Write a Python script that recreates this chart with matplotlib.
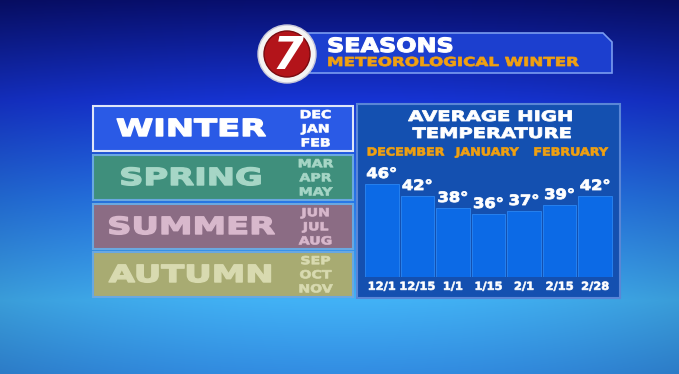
import numpy as np
import matplotlib.pyplot as plt
from matplotlib.patches import Rectangle, Circle, Polygon
from matplotlib.patheffects import AbstractPathEffect
from matplotlib.transforms import Affine2D

dates = ["12/1", "12/15", "1/1", "1/15", "2/1", "2/15", "2/28"]
highs = [46, 42, 38, 36, 37, 39, 42]
months = ["DECEMBER", "JANUARY", "FEBRUARY"]
seasons = ["WINTER", "SPRING", "SUMMER", "AUTUMN"]
season_months = [["DEC", "JAN", "FEB"], ["MAR", "APR", "MAY"],
                 ["JUN", "JUL", "AUG"], ["SEP", "OCT", "NOV"]]

W, H = 679, 374
FONT = "DejaVu Sans"
ORANGE = "#f0a010"


class Stretch(AbstractPathEffect):
    """widen text horizontally around its anchor and fatten the strokes
    (the TV graphic uses an extended black-weight font)"""

    def __init__(self, x, trans, sx, lw=0.0):
        super().__init__()
        self.x, self.trans, self.sx, self.lw = x, trans, sx, lw

    def draw_path(self, renderer, gc, tpath, affine, rgbFace=None):
        cx = self.trans.transform((self.x, 0))[0]
        st = Affine2D().translate(-cx, 0).scale(self.sx, 1).translate(cx, 0)
        gc0 = renderer.new_gc()
        gc0.copy_properties(gc)
        if self.lw > 0 and rgbFace is not None:
            gc0.set_linewidth(self.lw)
            gc0.set_foreground(rgbFace)
            gc0.set_joinstyle("round")
        renderer.draw_path(gc0, tpath, affine + st, rgbFace)
        gc0.restore()


def wide_text(ax, x, y, s, sx, **kw):
    t = ax.text(x, y, s, family=FONT, fontweight="bold", **kw)
    t.set_path_effects([Stretch(x, ax.transData, sx, 0.06 * kw.get("fontsize", 10))])
    return t


fig = plt.figure(figsize=(W / 100, H / 100), dpi=100)

# background: pixel coords, y down
bg = fig.add_axes([0, 0, 1, 1])
bg.set_xlim(0, W)
bg.set_ylim(H, 0)
bg.axis("off")

stops_y = [0, 100, 200, 300, 374]
stops_c = np.array([[8, 15, 110], [22, 52, 212], [38, 118, 232],
                    [66, 178, 246], [50, 140, 226]], dtype=float) / 255
yy = np.arange(H)
grad = np.stack([np.interp(yy, stops_y, stops_c[:, k]) for k in range(3)], axis=1)
xx = np.linspace(-1, 1, W)
shade = 1 - 0.12 * xx ** 2
img = grad[:, None, :] * shade[None, :, None]
bg.imshow(np.clip(img, 0, 1), extent=[0, W, H, 0], aspect="auto", zorder=0)

# header banner + logo
banner = Polygon([[305, 33], [603, 33], [612, 42], [612, 73], [305, 73]],
                 closed=True, facecolor="#1c3fcf", edgecolor="#7a9cf0", lw=1.2, zorder=2)
bg.add_patch(banner)
wide_text(bg, 327, 46.5, "SEASONS", 1.22, color="white", fontsize=14.1,
          va="center", ha="left", zorder=3)
wide_text(bg, 327, 62.5, "METEOROLOGICAL WINTER", 1.35, color=ORANGE, fontsize=8.9,
          va="center", ha="left", zorder=3)
bg.add_patch(Circle((287, 54), 29, facecolor="#f4f4f4", edgecolor="#c8c8d8", lw=1, zorder=4))
bg.add_patch(Circle((287, 54), 23, facecolor="#b3141a", edgecolor="#7a0a10", lw=1, zorder=5))
bg.text(288, 56, "7", color="white", fontsize=32, fontweight="bold", style="italic",
        family=FONT, ha="center", va="center", zorder=6)

# season boxes
box_y = [106, 155, 204, 252]
box_fc = ["#2a5ae6", "#3f8f7c", "#8b6c84", "#a8ab72"]
box_ec = ["#dfe6f8", "#6aa8e0", "#6aa8e0", "#6aa8e0"]
txt_c = ["white", "#a6d6c6", "#d8b8cc", "#d8dab0"]
for i, name in enumerate(seasons):
    y0 = box_y[i]
    bg.add_patch(Rectangle((93, y0), 260, 45, facecolor=box_fc[i], edgecolor=box_ec[i],
                           lw=1.5, zorder=2))
    wide_text(bg, 191, y0 + 23, name, 1.43, color=txt_c[i], fontsize=17.0,
              ha="center", va="center", zorder=3)
    for j, m in enumerate(season_months[i]):
        wide_text(bg, 315.5, y0 + 9.2 + j * 14.1, m, 1.27, color=txt_c[i], fontsize=8.0,
                  ha="center", va="center", zorder=3)

# chart panel
bg.add_patch(Rectangle((357, 104), 263, 194, facecolor="#1450b0", edgecolor="#5a86d6",
                       lw=1.5, zorder=2))
wide_text(bg, 490, 117, "AVERAGE HIGH", 1.37, color="white", fontsize=10.3,
          ha="center", va="center", zorder=3)
wide_text(bg, 491.5, 134, "TEMPERATURE", 1.36, color="white", fontsize=10.3,
          ha="center", va="center", zorder=3)
for m, cx in zip(months, [405.5, 487, 570.5]):
    wide_text(bg, cx, 152.5, m, 1.14, color=ORANGE, fontsize=8.0,
              ha="center", va="center", zorder=3)

# bars: 3 px per degree, baseline at 15
ax = fig.add_axes([364 / W, (H - 277) / H, (613 - 364) / W, 120 / H])
ax.patch.set_alpha(0)
x = np.arange(len(highs))
ax.bar(x, [v - 15 for v in highs], bottom=15, width=0.94, color="#0c6ae6",
       edgecolor="#2a86f4", lw=0.6)
for xi, v in zip(x, highs):
    wide_text(ax, xi, v + 1, f"{v}°", 1.15, color="white", fontsize=10.2,
              ha="center", va="bottom")
ax.set_xlim(-0.5, len(highs) - 0.5)
ax.set_ylim(15, 55)
ax.set_xticks(x, dates)
ax.tick_params(axis="x", length=0, pad=3.5, colors="white", labelsize=8)
for xi, lbl in zip(x, ax.get_xticklabels()):
    lbl.set_fontweight("bold")
    lbl.set_family(FONT)
    lbl.set_path_effects([Stretch(xi, ax.get_xaxis_transform(), 1.03, 0.45)])
ax.set_yticks([])
for s in ax.spines.values():
    s.set_visible(False)

fig.savefig("out.png", dpi=100)
